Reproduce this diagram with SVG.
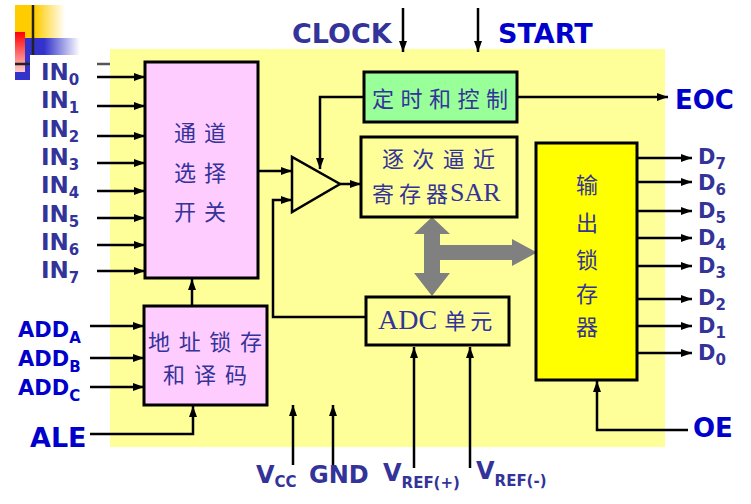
<svg xmlns="http://www.w3.org/2000/svg" width="751" height="504" viewBox="0 0 751 504">
<style>
.ln{stroke:#000;stroke-width:2.5;fill:none}
.box{stroke:#000;stroke-width:3}
.lbl{font-family:"DejaVu Sans",Verdana,sans-serif;font-weight:bold;fill:#333399}
.lb2{font-family:"DejaVu Sans",Verdana,sans-serif;font-weight:bold;fill:#0000CC}
.cn{font-family:"Noto Sans CJK SC",sans-serif;fill:#333399;font-size:22px}
.sf{font-family:"Liberation Serif",serif}
</style>
<defs>
<marker id="ah" viewBox="0 0 11 8" refX="11" refY="4" markerWidth="11" markerHeight="8" markerUnits="userSpaceOnUse" orient="auto"><path d="M0,0 L11,4 L0,8 z" fill="#000"/></marker>
<linearGradient id="gy" x1="0" y1="0" x2="1" y2="0"><stop offset="0" stop-color="#FFCC00"/><stop offset="0.4" stop-color="#FFCC00"/><stop offset="1" stop-color="#FFFFFF"/></linearGradient>
<linearGradient id="gb" x1="0" y1="0" x2="1" y2="0"><stop offset="0" stop-color="#3333CC"/><stop offset="0.45" stop-color="#3333CC"/><stop offset="1" stop-color="#FFFFFF"/></linearGradient>
<linearGradient id="gr" x1="0" y1="0" x2="0" y2="1"><stop offset="0" stop-color="#FF0000"/><stop offset="1" stop-color="#FFCCCC"/></linearGradient>
</defs>
<rect width="751" height="504" fill="#fff"/>
<g id="decor">
<rect x="15" y="5" width="50" height="33" fill="url(#gy)"/>
<rect x="15" y="38" width="65" height="17" fill="url(#gb)"/>
<rect x="15" y="38" width="15" height="42" fill="#3333CC"/>
<rect x="15" y="32" width="10" height="40" fill="url(#gr)"/>
<line x1="33" y1="5" x2="33" y2="55" stroke="#222" stroke-width="2.5"/>
<line x1="15" y1="64" x2="30" y2="64" stroke="#222" stroke-width="2.5"/>
<line x1="97" y1="64" x2="110" y2="64" stroke="#555" stroke-width="2.5"/>
</g>
<rect id="chip" x="110" y="49" width="555" height="398" fill="#FFFF99"/>
<g id="connectors">
<line class="ln" x1="97" y1="77" x2="145" y2="77" marker-end="url(#ah)"/>
<line class="ln" x1="97" y1="106" x2="145" y2="106" marker-end="url(#ah)"/>
<line class="ln" x1="97" y1="136" x2="145" y2="136" marker-end="url(#ah)"/>
<line class="ln" x1="97" y1="163" x2="145" y2="163" marker-end="url(#ah)"/>
<line class="ln" x1="97" y1="191" x2="145" y2="191" marker-end="url(#ah)"/>
<line class="ln" x1="97" y1="218" x2="145" y2="218" marker-end="url(#ah)"/>
<line class="ln" x1="97" y1="245" x2="145" y2="245" marker-end="url(#ah)"/>
<line class="ln" x1="97" y1="271" x2="145" y2="271" marker-end="url(#ah)"/>
<line class="ln" x1="90" y1="326" x2="144" y2="326" marker-end="url(#ah)"/>
<line class="ln" x1="90" y1="358" x2="144" y2="358" marker-end="url(#ah)"/>
<line class="ln" x1="90" y1="387" x2="144" y2="387" marker-end="url(#ah)"/>
<polyline class="ln" points="90,434 193,434 193,406" marker-end="url(#ah)"/>
<line class="ln" x1="192" y1="306" x2="192" y2="279" marker-end="url(#ah)"/>
<line class="ln" x1="258" y1="171" x2="292" y2="171" marker-end="url(#ah)"/>
<polyline class="ln" points="366,317 273,317 273,200 292,200" marker-end="url(#ah)"/>
<line class="ln" x1="340" y1="184" x2="361" y2="184" marker-end="url(#ah)"/>
<polyline class="ln" points="364,97 320,97 320,169" marker-end="url(#ah)"/>
<line class="ln" x1="403" y1="8" x2="403" y2="52" marker-end="url(#ah)"/>
<line class="ln" x1="478" y1="8" x2="478" y2="52" marker-end="url(#ah)"/>
<line class="ln" x1="517" y1="97" x2="668" y2="97" marker-end="url(#ah)"/>
<line class="ln" x1="637" y1="158" x2="692" y2="158" marker-end="url(#ah)"/>
<line class="ln" x1="637" y1="182" x2="692" y2="182" marker-end="url(#ah)"/>
<line class="ln" x1="637" y1="211" x2="692" y2="211" marker-end="url(#ah)"/>
<line class="ln" x1="637" y1="238" x2="692" y2="238" marker-end="url(#ah)"/>
<line class="ln" x1="637" y1="266" x2="692" y2="266" marker-end="url(#ah)"/>
<line class="ln" x1="637" y1="299" x2="692" y2="299" marker-end="url(#ah)"/>
<line class="ln" x1="637" y1="326" x2="692" y2="326" marker-end="url(#ah)"/>
<line class="ln" x1="637" y1="353" x2="692" y2="353" marker-end="url(#ah)"/>
<polyline class="ln" points="688,430 597,430 597,381" marker-end="url(#ah)"/>
<line class="ln" x1="293" y1="465" x2="293" y2="405" marker-end="url(#ah)"/>
<line class="ln" x1="333" y1="465" x2="333" y2="405" marker-end="url(#ah)"/>
<line class="ln" x1="414" y1="468" x2="414" y2="347" marker-end="url(#ah)"/>
<line class="ln" x1="470" y1="468" x2="470" y2="347" marker-end="url(#ah)"/>
<path d="M432,217 L450,234 L440,234 L440,245 L512,245 L512,239 L537,252.5 L512,266 L512,260 L440,260 L440,273 L450,273 L432,296 L414,273 L424,273 L424,234 L414,234 z" fill="#808080"/>
</g>
<g id="mux">
<rect class="box" x="145" y="62" width="113" height="216" fill="#FFCCFF"/>
<text class="cn" x="174" y="131" dominant-baseline="central" textLength="52">通道</text>
<text class="cn" x="174" y="171" dominant-baseline="central" textLength="52">选择</text>
<text class="cn" x="174" y="210" dominant-baseline="central" textLength="52">开关</text>
</g>
<g id="decoder">
<rect class="box" x="144" y="306" width="123" height="99" fill="#FFCCFF"/>
<text class="cn" x="148" y="340" dominant-baseline="central" textLength="114">地址锁存</text>
<text class="cn" x="163" y="373" dominant-baseline="central" textLength="84">和译码</text>
</g>
<g id="comparator">
<polygon class="ln" points="292,157 292,212 340,184"/>
</g>
<g id="timing">
<rect class="box" x="364" y="72" width="153" height="50" fill="#99FF99"/>
<text class="cn" x="372" y="97" dominant-baseline="central" textLength="136">定时和控制</text>
</g>
<g id="sar">
<rect class="box" x="361" y="137" width="156" height="80" fill="#FFFF99"/>
<text class="cn" x="382" y="157" dominant-baseline="central" textLength="113">逐次逼近</text>
<text class="cn" x="372" y="192" dominant-baseline="central"><tspan letter-spacing="5">寄存器</tspan><tspan class="sf" font-size="26" dx="-3">SAR</tspan></text>
</g>
<g id="adc">
<rect class="box" x="366" y="297" width="143" height="48" fill="#FFFF99"/>
<text class="cn" x="378" y="319" dominant-baseline="central"><tspan class="sf" font-size="28">ADC</tspan><tspan dx="7" letter-spacing="4">单元</tspan></text>
</g>
<g id="latch">
<rect class="box" x="536" y="143" width="101" height="237" fill="#FFFF00"/>
<text class="cn" x="587" y="183" text-anchor="middle" dominant-baseline="central">输</text>
<text class="cn" x="587" y="221" text-anchor="middle" dominant-baseline="central">出</text>
<text class="cn" x="587" y="258" text-anchor="middle" dominant-baseline="central">锁</text>
<text class="cn" x="587" y="292" text-anchor="middle" dominant-baseline="central">存</text>
<text class="cn" x="587" y="325" text-anchor="middle" dominant-baseline="central">器</text>
</g>
<g id="labels">
<text class="lbl" font-size="23" x="41" y="80">IN<tspan font-size="15" dy="5">0</tspan></text>
<text class="lbl" font-size="23" x="41" y="108">IN<tspan font-size="15" dy="5">1</tspan></text>
<text class="lbl" font-size="23" x="41" y="137">IN<tspan font-size="15" dy="5">2</tspan></text>
<text class="lbl" font-size="23" x="41" y="165">IN<tspan font-size="15" dy="5">3</tspan></text>
<text class="lbl" font-size="23" x="41" y="193">IN<tspan font-size="15" dy="5">4</tspan></text>
<text class="lbl" font-size="23" x="41" y="222">IN<tspan font-size="15" dy="5">5</tspan></text>
<text class="lbl" font-size="23" x="41" y="250">IN<tspan font-size="15" dy="5">6</tspan></text>
<text class="lbl" font-size="23" x="41" y="278">IN<tspan font-size="15" dy="5">7</tspan></text>
<text class="lb2" font-size="21" x="18" y="337">ADD<tspan font-size="15" dy="6">A</tspan></text>
<text class="lb2" font-size="21" x="18" y="366">ADD<tspan font-size="15" dy="6">B</tspan></text>
<text class="lb2" font-size="21" x="18" y="395">ADD<tspan font-size="15" dy="6">C</tspan></text>
<text class="lb2" font-size="27" x="30" y="447">ALE</text>
<text class="lbl" font-size="27" x="292" y="43">CLOCK</text>
<text class="lb2" font-size="27" x="498" y="43">START</text>
<text class="lb2" font-size="26" x="675" y="109">EOC</text>
<text class="lb2" font-size="26" x="693" y="437">OE</text>
<text class="lbl" font-size="21" x="698" y="164">D<tspan font-size="15" dy="5">7</tspan></text>
<text class="lbl" font-size="21" x="698" y="190">D<tspan font-size="15" dy="5">6</tspan></text>
<text class="lbl" font-size="21" x="698" y="218">D<tspan font-size="15" dy="5">5</tspan></text>
<text class="lbl" font-size="21" x="698" y="245">D<tspan font-size="15" dy="5">4</tspan></text>
<text class="lbl" font-size="21" x="698" y="273">D<tspan font-size="15" dy="5">3</tspan></text>
<text class="lbl" font-size="21" x="698" y="305">D<tspan font-size="15" dy="5">2</tspan></text>
<text class="lbl" font-size="21" x="698" y="333">D<tspan font-size="15" dy="5">1</tspan></text>
<text class="lbl" font-size="21" x="698" y="360">D<tspan font-size="15" dy="5">0</tspan></text>
<text class="lbl" font-size="24" x="256" y="483">V<tspan font-size="15" dy="4">CC</tspan></text>
<text class="lbl" font-size="24" x="309" y="483">GND</text>
<text class="lbl" font-size="24" x="383" y="481">V<tspan font-size="15" dy="7">REF(+)</tspan></text>
<text class="lbl" font-size="24" x="476" y="479">V<tspan font-size="15" dy="7">REF(-)</tspan></text>
</g>
</svg>
